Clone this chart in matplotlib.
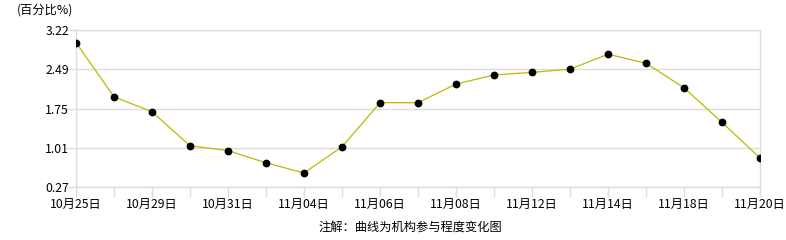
import matplotlib
matplotlib.use("Agg")
import matplotlib.pyplot as plt

plt.rcParams['font.family'] = ['Noto Sans CJK SC', 'DejaVu Sans']

dates = ["10月25日", "10月28日", "10月29日", "10月30日", "10月31日", "11月01日",
         "11月04日", "11月05日", "11月06日", "11月07日", "11月08日", "11月11日",
         "11月12日", "11月13日", "11月14日", "11月15日", "11月18日", "11月19日",
         "11月20日"]
values = [2.99, 1.97, 1.69, 1.05, 0.96, 0.73, 0.54, 1.03, 1.86, 1.86, 2.21, 2.38,
          2.43, 2.49, 2.77, 2.60, 2.14, 1.49, 0.82]
yticks = [0.27, 1.01, 1.75, 2.49, 3.22]
ylabels = ["0.27", "1.01", "1.75", "2.49", "3.22"]

W, H = 786, 240
fig = plt.figure(figsize=(W / 100, H / 100), dpi=100)
L, R, T, B = 76, 760, 30.3, 187.3
ax = fig.add_axes([L / W, 1 - B / H, (R - L) / W, (B - T) / H])

x = list(range(len(values)))
ax.plot(x, values, color='#C0B800', lw=0.9, zorder=3)
ax.plot(x, values, 'o', color='black', ms=4.6, zorder=4)

ax.set_xlim(0, len(values) - 1)
ax.set_ylim(yticks[0], yticks[-1])
ax.set_yticks(yticks)
ax.set_yticklabels(ylabels, fontsize=8.8)
ax.set_xticks(x)
ax.set_xticklabels([d if i % 2 == 0 else "" for i, d in enumerate(dates)], fontsize=8.8)

gc = '#DDDDDD'
ax.grid(axis='y', color=gc, lw=1)
for s in ax.spines.values():
    s.set_color(gc)
    s.set_linewidth(1)
ax.tick_params(axis='both', color=gc, length=7, width=1)
ax.tick_params(axis='x', pad=1)
ax.tick_params(axis='y', pad=-2)

fig.text(17 / W, 1 - 10 / H, "(百分比%)", fontsize=8.8, ha='left', va='center')
fig.text(410 / W, 1 - 227 / H, "注解：曲线为机构参与程度变化图", fontsize=8.8,
         ha='center', va='center')

fig.savefig("out.png", dpi=100)
